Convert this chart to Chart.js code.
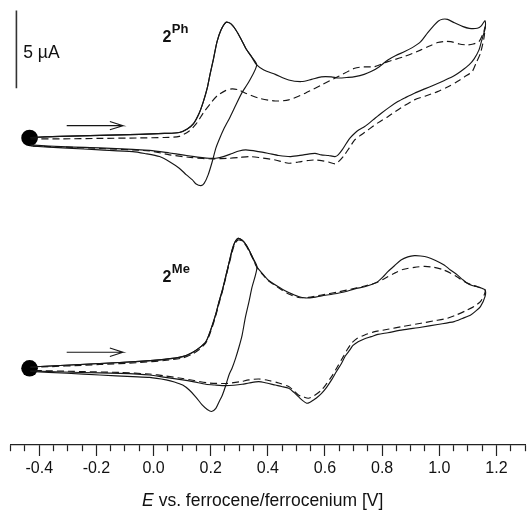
<!DOCTYPE html>
<html><head><meta charset="utf-8">
<script src="https://cdn.jsdelivr.net/npm/chart.js@4/dist/chart.umd.min.js"></script>
<style>html,body{margin:0;padding:0;background:#fff;}#wrap{width:528px;height:511px;position:relative;}</style>
</head><body><div id="wrap"><canvas id="c"></canvas></div>
<script>
// Potential E (V vs. Fc/Fc+) and current (µA, relative to scan start) pairs [E, i]
// ---- 2^Ph ----
const ph_solid_forward = [[-0.431,0.03],[-0.327,0.10],[-0.188,0.16],[-0.049,0.23],[0.038,0.29],[0.090,0.35],[0.118,0.58],[0.139,0.90],[0.160,1.61],[0.174,2.32],[0.188,3.22],[0.198,4.12],[0.209,5.02],[0.222,6.18],[0.236,6.95],[0.254,7.45],[0.271,7.34],[0.288,6.95],[0.306,6.37],[0.323,5.76],[0.341,5.28],[0.361,4.70]];
const ph_solid_narrow_return = [[0.334,3.63],[0.309,2.90],[0.288,2.12],[0.268,1.35],[0.247,0.62],[0.229,-0.13],[0.218,-0.66],[0.205,-1.55],[0.191,-2.38],[0.177,-2.93],[0.166,-3.07],[0.149,-2.96],[0.136,-2.70],[0.115,-2.38],[0.090,-1.95],[0.056,-1.53],[0.021,-1.20],[-0.031,-1.00],[-0.073,-0.88],[-0.188,-0.77],[-0.302,-0.66],[-0.431,-0.52]];
const ph_solid_wide_forward = [[0.386,4.38],[0.426,4.09],[0.473,3.73],[0.518,3.63],[0.553,3.77],[0.587,3.93],[0.622,3.93],[0.646,3.86],[0.681,3.90],[0.705,3.95],[0.737,4.09],[0.761,4.27],[0.789,4.57],[0.820,5.02],[0.848,5.31],[0.879,5.56],[0.907,5.83],[0.935,6.20],[0.959,6.76],[0.983,7.28],[0.997,7.53],[1.011,7.64],[1.029,7.63],[1.053,7.41],[1.081,7.18],[1.105,7.05],[1.133,7.06],[1.147,7.21],[1.160,7.55]];
const ph_solid_wide_return = [[1.161,7.08],[1.156,6.74],[1.147,6.18],[1.139,5.67],[1.122,5.09],[1.104,4.70],[1.077,4.31],[1.052,4.00],[1.018,3.70],[0.982,3.41],[0.949,3.16],[0.913,2.88],[0.883,2.61],[0.855,2.34],[0.827,2.00],[0.797,1.59],[0.768,1.16],[0.739,0.73],[0.719,0.52],[0.704,0.30],[0.688,0.00],[0.675,-0.34],[0.660,-0.77],[0.646,-1.09],[0.635,-1.20],[0.612,-1.13],[0.587,-1.09],[0.565,-0.99],[0.525,-1.09],[0.480,-1.20],[0.438,-1.13],[0.403,-1.00],[0.368,-0.88],[0.323,-0.77],[0.299,-0.84],[0.275,-1.00],[0.247,-1.19],[0.218,-1.31],[0.195,-1.31],[0.170,-1.27],[0.136,-1.19],[0.101,-1.09],[0.056,-0.97],[-0.014,-0.80],[-0.073,-0.74],[-0.188,-0.64],[-0.302,-0.58],[-0.431,-0.45]];
const ph_dashed_forward = [[-0.431,-0.06],[-0.327,-0.06],[-0.188,-0.03],[-0.049,0.00],[0.038,0.03],[0.090,0.10],[0.125,0.45],[0.149,0.90],[0.174,1.61],[0.198,2.19],[0.222,2.70],[0.250,3.03],[0.275,3.16],[0.299,3.09],[0.322,2.88],[0.368,2.56],[0.426,2.38],[0.473,2.45],[0.531,2.88],[0.588,3.41],[0.646,3.95],[0.704,4.49],[0.737,4.57],[0.774,4.59],[0.820,4.91],[0.878,5.24],[0.936,5.67],[0.966,5.92],[0.994,6.14],[1.018,6.21],[1.040,6.20],[1.070,6.05],[1.098,5.99],[1.119,6.05],[1.139,6.20],[1.156,6.85],[1.160,7.15]];
const ph_dashed_return = [[1.157,6.50],[1.144,5.45],[1.129,4.83],[1.115,4.27],[1.088,3.93],[1.063,3.63],[1.029,3.28],[0.994,2.98],[0.952,2.70],[0.913,2.45],[0.865,1.93],[0.820,1.37],[0.785,0.97],[0.751,0.52],[0.726,0.19],[0.704,-0.13],[0.685,-0.64],[0.664,-1.20],[0.646,-1.55],[0.635,-1.67],[0.612,-1.55],[0.588,-1.46],[0.565,-1.42],[0.542,-1.45],[0.507,-1.55],[0.473,-1.63],[0.426,-1.42],[0.368,-1.26],[0.334,-1.20],[0.299,-1.26],[0.264,-1.31],[0.205,-1.35],[0.136,-1.27],[0.056,-1.09],[-0.014,-0.84],[-0.188,-0.68],[-0.327,-0.58],[-0.431,-0.52]];
// ---- 2^Me ----
const me_solid_forward = [[-0.431,0.08],[-0.327,0.18],[-0.188,0.31],[-0.049,0.44],[0.038,0.57],[0.101,0.75],[0.136,1.02],[0.160,1.31],[0.183,1.71],[0.195,2.21],[0.206,2.79],[0.218,3.50],[0.229,4.27],[0.241,5.04],[0.253,5.94],[0.264,6.78],[0.276,7.68],[0.285,8.13],[0.296,8.36],[0.309,8.26],[0.322,8.00],[0.334,7.62],[0.345,7.19],[0.362,6.52]];
const me_solid_narrow_return = [[0.344,5.17],[0.334,4.29],[0.321,3.24],[0.310,2.14],[0.299,1.37],[0.287,0.64],[0.275,0.02],[0.264,-0.43],[0.252,-1.14],[0.241,-1.72],[0.229,-2.17],[0.218,-2.58],[0.203,-2.78],[0.188,-2.65],[0.170,-2.36],[0.148,-1.85],[0.125,-1.40],[0.102,-1.08],[0.073,-0.88],[0.044,-0.75],[-0.014,-0.59],[-0.073,-0.54],[-0.188,-0.43],[-0.303,-0.32],[-0.431,-0.21]];
const me_solid_wide_forward = [[0.379,6.14],[0.403,5.65],[0.449,5.11],[0.473,4.88],[0.507,4.62],[0.531,4.53],[0.560,4.56],[0.588,4.66],[0.629,4.78],[0.670,4.93],[0.704,5.11],[0.739,5.25],[0.768,5.43],[0.785,5.58],[0.803,5.88],[0.820,6.22],[0.844,6.62],[0.866,6.97],[0.890,7.17],[0.913,7.25],[0.935,7.23],[0.959,7.15],[0.987,6.94],[1.017,6.65],[1.039,6.33],[1.063,6.01],[1.081,5.72],[1.098,5.47],[1.115,5.33],[1.133,5.25],[1.160,5.04]];
const me_solid_wide_return = [[1.160,4.61],[1.144,3.97],[1.126,3.66],[1.110,3.43],[1.081,3.21],[1.052,3.00],[0.994,2.82],[0.936,2.64],[0.872,2.47],[0.820,2.29],[0.785,2.18],[0.762,2.04],[0.737,1.89],[0.716,1.71],[0.698,1.47],[0.687,1.18],[0.671,0.79],[0.658,0.32],[0.639,-0.24],[0.623,-0.75],[0.605,-1.24],[0.588,-1.61],[0.570,-1.91],[0.560,-2.04],[0.546,-2.20],[0.536,-2.25],[0.521,-2.07],[0.507,-1.83],[0.490,-1.53],[0.473,-1.29],[0.448,-1.17],[0.426,-1.08],[0.396,-0.95],[0.368,-0.86],[0.334,-0.95],[0.310,-1.03],[0.281,-1.09],[0.253,-1.12],[0.215,-1.08],[0.183,-1.03],[0.142,-0.88],[0.102,-0.75],[0.042,-0.59],[-0.014,-0.43],[-0.118,-0.33],[-0.257,-0.27],[-0.431,-0.17]];
const me_dashed_forward = [[-0.431,0.05],[-0.188,0.24],[-0.049,0.37],[0.038,0.50],[0.101,0.66],[0.136,0.92],[0.160,1.21],[0.183,1.63],[0.195,2.11],[0.206,2.69],[0.218,3.40],[0.229,4.17],[0.241,4.95],[0.253,5.85],[0.264,6.68],[0.276,7.55],[0.285,8.04],[0.296,8.26],[0.309,8.20],[0.322,7.94],[0.334,7.55],[0.345,7.14],[0.362,6.49],[0.379,6.10],[0.403,5.62],[0.449,5.04],[0.473,4.78],[0.507,4.56],[0.542,4.56],[0.588,4.72],[0.646,4.91],[0.704,5.15],[0.739,5.30],[0.774,5.47],[0.806,5.75],[0.843,6.12],[0.872,6.36],[0.913,6.50],[0.949,6.56],[0.982,6.50],[1.011,6.36],[1.040,6.12],[1.063,5.88],[1.087,5.58],[1.109,5.40],[1.133,5.25],[1.160,5.07]];
const me_dashed_return = [[1.157,4.72],[1.144,4.29],[1.122,3.98],[1.098,3.75],[1.063,3.46],[1.029,3.22],[0.980,3.05],[0.936,2.90],[0.872,2.69],[0.820,2.51],[0.771,2.34],[0.739,2.14],[0.712,1.92],[0.693,1.61],[0.678,1.21],[0.664,0.75],[0.643,0.08],[0.623,-0.54],[0.605,-1.01],[0.588,-1.40],[0.563,-1.75],[0.542,-1.93],[0.525,-1.85],[0.507,-1.72],[0.490,-1.43],[0.473,-1.18],[0.438,-0.95],[0.403,-0.79],[0.368,-0.69],[0.334,-0.75],[0.299,-0.88],[0.253,-0.98],[0.195,-0.95],[0.142,-0.79],[0.102,-0.66],[0.042,-0.50],[-0.014,-0.37],[-0.118,-0.27],[-0.257,-0.21],[-0.431,-0.14]];

// Start of scan (dot), arrow and 5 µA scale bar, in the same units
const startE = -0.434;
const arrowE = [-0.304, -0.107, -0.153];   // tail, tip, head back
const arrowI = [0.79, 1.03];                // per panel
const arrowHalfHead = 0.27;
const scaleBarE = -0.480;
const scaleBarI = [3.2, 8.2];               // 5 µA
const scaleLabelPos = [-0.456, 5.45];
const compoundNames = ['Ph', 'Me'];
const compoundLabelE = 0.031;
const compoundLabelI = [6.18, 5.56];
const xTicksMajor = [-0.4, -0.2, 0.0, 0.2, 0.4, 0.6, 0.8, 1.0, 1.2];
const axisTitleCenterE = 0.382;

// panel offsets (vertical stacking of the two CVs)
const panelOffset = [19.77, 4.94];

const INK = '#161616';
const toPts = (arr, off) => arr.map(p => ({x: p[0], y: p[1] + off}));
function lineDs(arr, off, dashed, w) {
  return {data: toPts(arr, off), showLine: true, borderColor: INK, borderWidth: w || 1.15,
    borderDash: dashed ? [7, 4] : [], pointRadius: 0, tension: 0.25, fill: false};
}
const panels = [
  {fwd: ph_solid_forward, nar: ph_solid_narrow_return, wf: ph_solid_wide_forward, wr: ph_solid_wide_return, df: ph_dashed_forward, dr: ph_dashed_return},
  {fwd: me_solid_forward, nar: me_solid_narrow_return, wf: me_solid_wide_forward, wr: me_solid_wide_return, df: me_dashed_forward, dr: me_dashed_return}
];
const datasets = [];
panels.forEach((p, k) => {
  const off = panelOffset[k];
  datasets.push(lineDs(p.df.concat(p.dr), off, true));
  datasets.push(lineDs(p.fwd.concat(p.nar), off, false));
  datasets.push(lineDs(p.fwd.concat(p.wf, p.wr), off, false));
  const ay = arrowI[k] + off;
  datasets.push({data: [{x: arrowE[0], y: ay}, {x: arrowE[1], y: ay}, {x: arrowE[2], y: ay + arrowHalfHead}, {x: arrowE[2], y: null}, {x: arrowE[1], y: ay}, {x: arrowE[2], y: ay - arrowHalfHead}],
    showLine: true, spanGaps: false, borderColor: INK, borderWidth: 1.1, pointRadius: 0, tension: 0});
  datasets.push({data: [{x: startE, y: off}], showLine: false, pointRadius: 8.3, pointBackgroundColor: '#000', pointBorderWidth: 0});
});
datasets.push({data: [{x: scaleBarE, y: scaleBarI[0] + panelOffset[0]}, {x: scaleBarE, y: scaleBarI[1] + panelOffset[0]}],
  showLine: true, borderColor: '#333', borderWidth: 1.6, pointRadius: 0});

const isMajor = v => xTicksMajor.some(m => Math.abs(m - v) < 1e-6);
const FONT = '"Liberation Sans", Arial, Helvetica, sans-serif';

const annot = {
  id: 'annot',
  afterDraw(chart) {
    const {ctx, scales: {x, y}} = chart;
    ctx.save();
    ctx.fillStyle = '#111';
    ctx.textAlign = 'left';
    ctx.textBaseline = 'middle';
    ctx.font = '17.5px ' + FONT;
    ctx.fillText('5 µA', x.getPixelForValue(scaleLabelPos[0]), y.getPixelForValue(scaleLabelPos[1] + panelOffset[0]));
    ctx.textBaseline = 'alphabetic';
    compoundNames.forEach((nm, k) => {
      const px = x.getPixelForValue(compoundLabelE);
      const py = y.getPixelForValue(compoundLabelI[k] + panelOffset[k]);
      ctx.font = 'bold 16px ' + FONT;
      ctx.fillText('2', px, py);
      const w = ctx.measureText('2').width;
      ctx.font = 'bold 13px ' + FONT;
      ctx.fillText(nm, px + w + 0.5, py - 9);
    });
    const t1 = 'E', t2 = ' vs. ferrocene/ferrocenium [V]';
    ctx.font = 'italic 17.5px ' + FONT;
    const w1 = ctx.measureText(t1).width;
    ctx.font = '17.5px ' + FONT;
    const w2 = ctx.measureText(t2).width;
    const cx = x.getPixelForValue(axisTitleCenterE);
    const by = x.bottom - 5.5;
    const sx = cx - (w1 + w2) / 2;
    ctx.font = 'italic 17.5px ' + FONT;
    ctx.fillText(t1, sx, by);
    ctx.font = '17.5px ' + FONT;
    ctx.fillText(t2, sx + w1, by);
    ctx.restore();
  }
};

new Chart(document.getElementById('c'), {
  type: 'scatter',
  data: {datasets},
  options: {
    responsive: true, maintainAspectRatio: false, animation: false, devicePixelRatio: 1,
    layout: {autoPadding: false, padding: {left: 10.7, right: 0, top: 0, bottom: 0}},
    plugins: {legend: {display: false}, tooltip: {enabled: false}},
    scales: {
      x: {
        type: 'linear', position: 'bottom', min: -0.5, max: 1.3,
        afterFit(s) { s.height = 66; },
        border: {display: true, color: '#222', width: 1.2},
        grid: {drawOnChartArea: false, drawTicks: true, tickLength: 11, tickColor: '#222', tickWidth: 1.2,
          tickBorderDash: (c) => (c.tick && isMajor(c.tick.value)) ? [] : [6, 30]},
        ticks: {stepSize: 0.05, autoSkip: false, maxRotation: 0, minRotation: 0, padding: 3, color: '#111',
          font: {size: 16, family: FONT},
          callback: (v) => isMajor(v) ? (Math.abs(v) < 1e-9 ? '0.0' : v.toFixed(1)) : ''}
      },
      y: {type: 'linear', display: false, min: 0, max: 28.65}
    }
  },
  plugins: [annot]
});
</script>
</body></html>
